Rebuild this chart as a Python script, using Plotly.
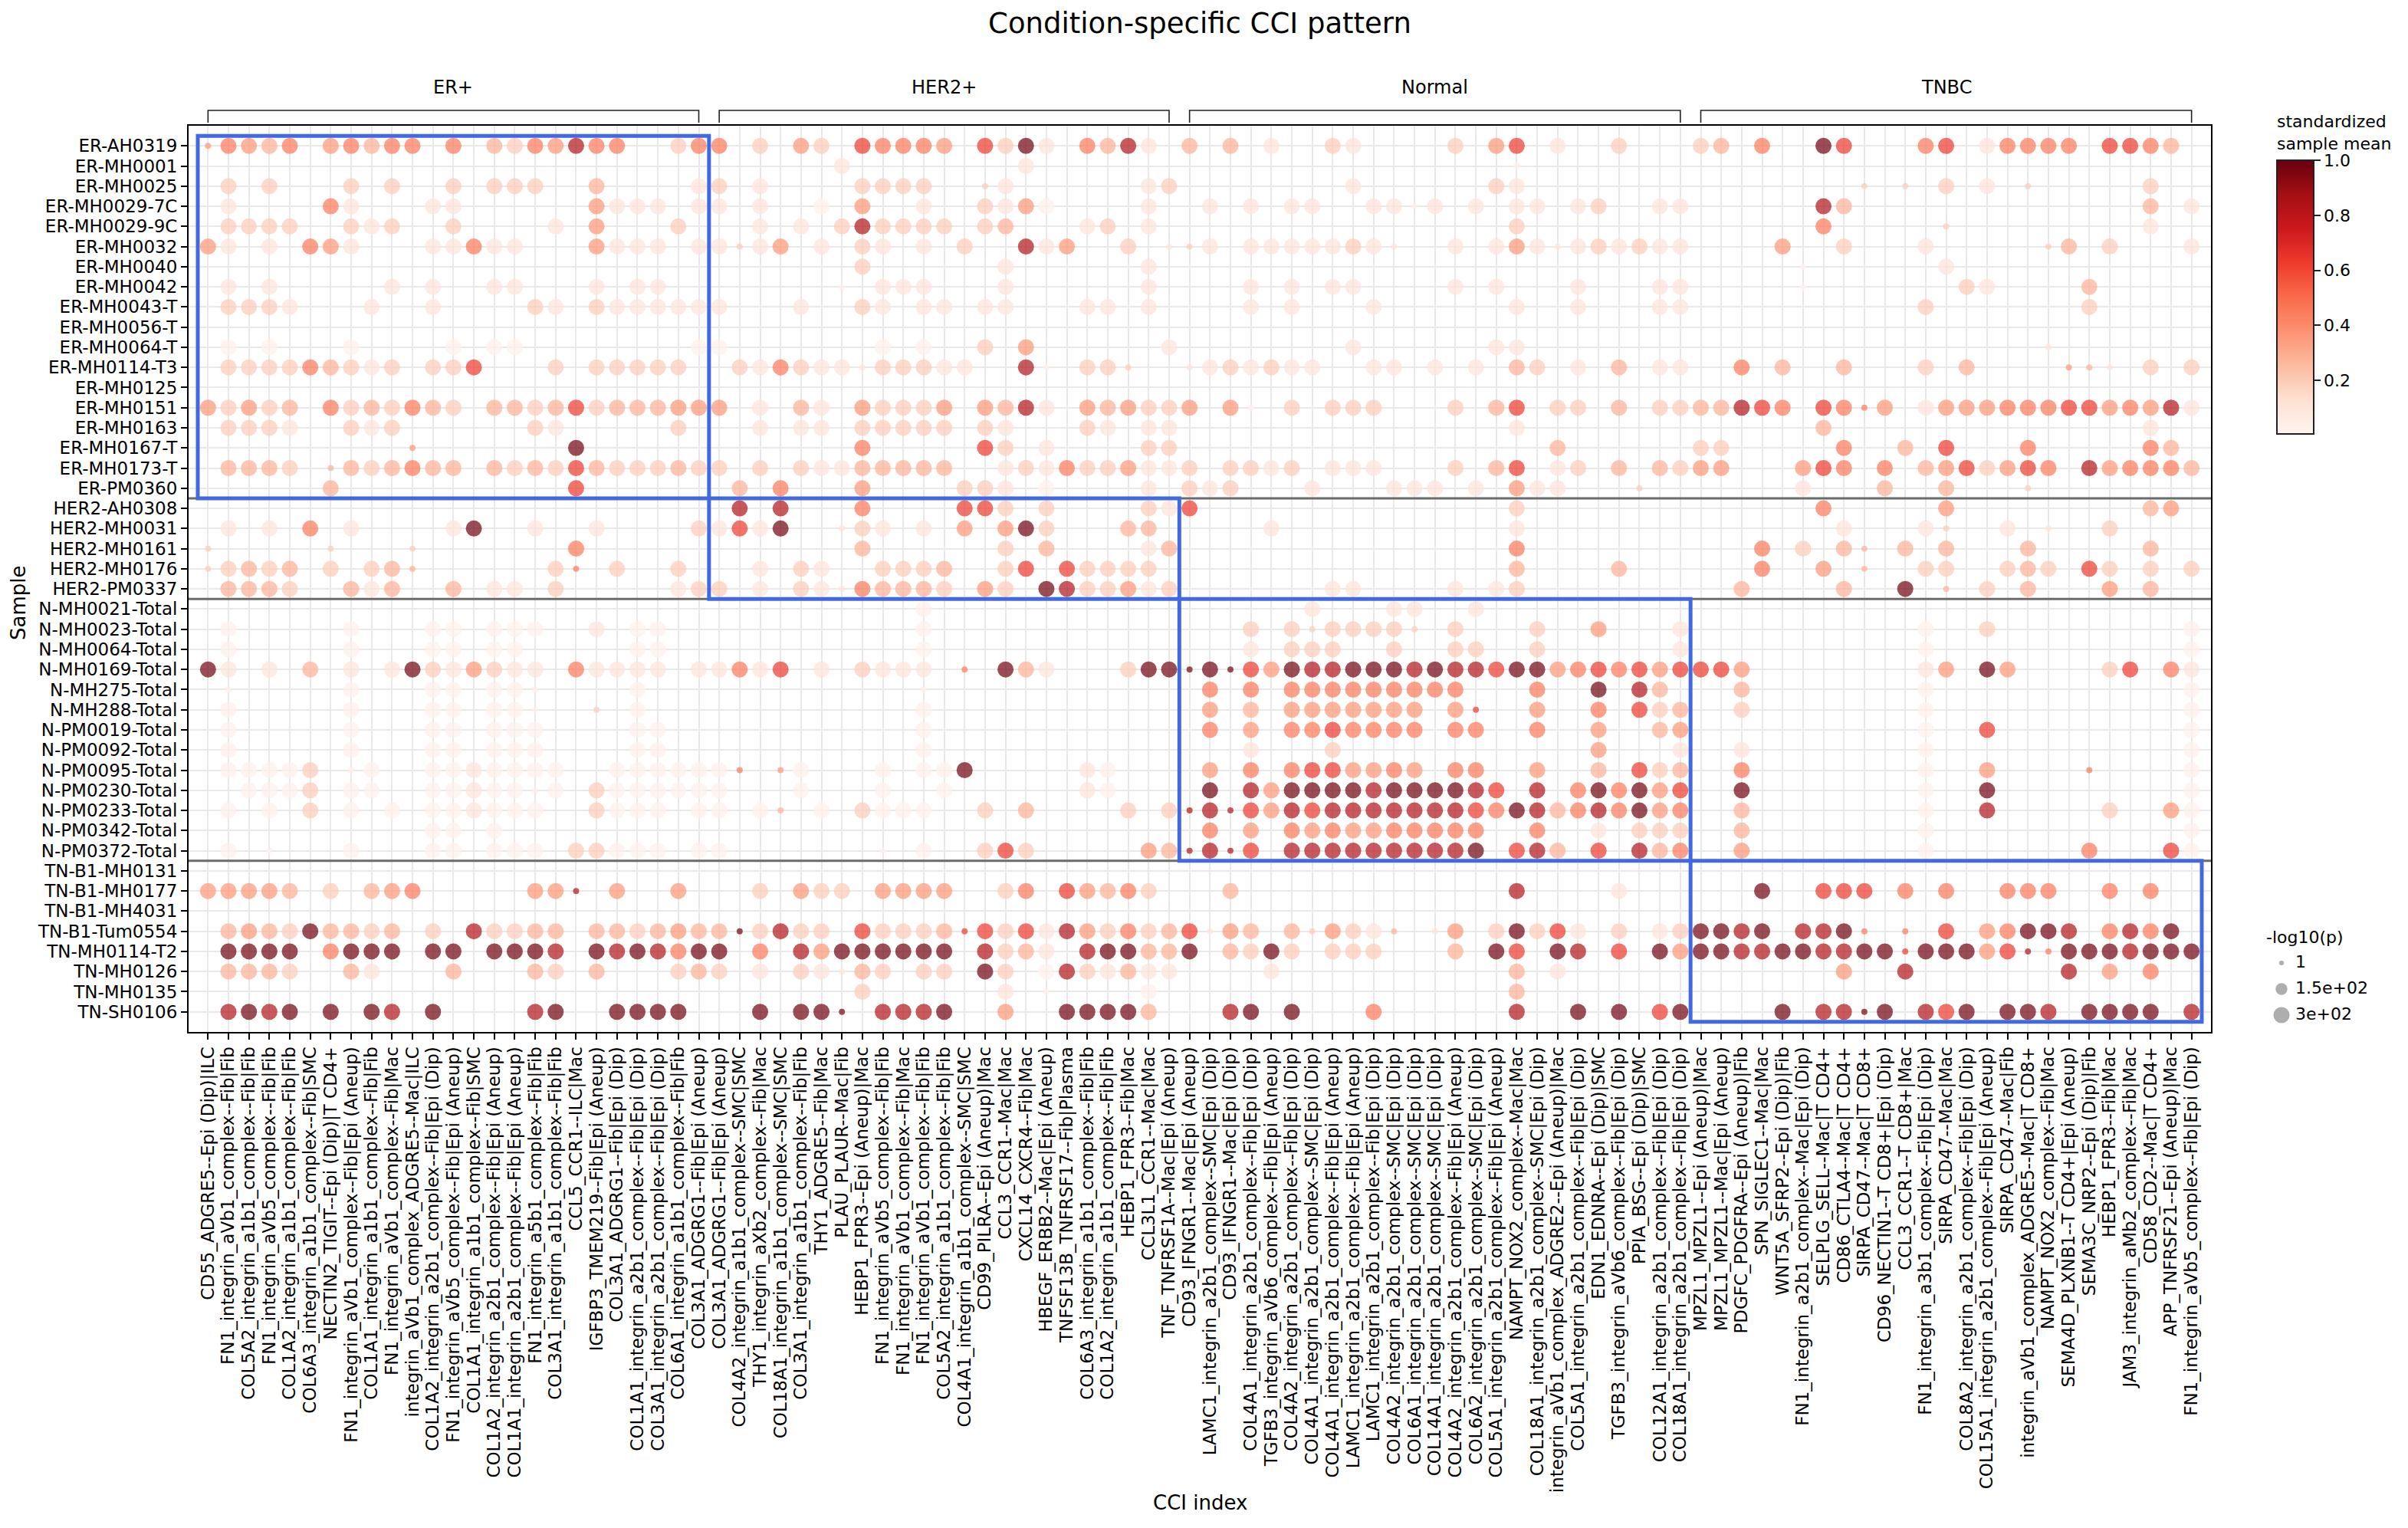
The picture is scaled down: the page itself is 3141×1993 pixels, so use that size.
import math
import plotly.graph_objects as go

# ---------------- data ----------------
samples = [
    "ER-AH0319", "ER-MH0001", "ER-MH0025", "ER-MH0029-7C", "ER-MH0029-9C", "ER-MH0032",
    "ER-MH0040", "ER-MH0042", "ER-MH0043-T", "ER-MH0056-T", "ER-MH0064-T", "ER-MH0114-T3",
    "ER-MH0125", "ER-MH0151", "ER-MH0163", "ER-MH0167-T", "ER-MH0173-T", "ER-PM0360",
    "HER2-AH0308", "HER2-MH0031", "HER2-MH0161", "HER2-MH0176", "HER2-PM0337",
    "N-MH0021-Total", "N-MH0023-Total", "N-MH0064-Total", "N-MH0169-Total", "N-MH275-Total",
    "N-MH288-Total", "N-PM0019-Total", "N-PM0092-Total", "N-PM0095-Total", "N-PM0230-Total",
    "N-PM0233-Total", "N-PM0342-Total", "N-PM0372-Total",
    "TN-B1-MH0131", "TN-B1-MH0177", "TN-B1-MH4031", "TN-B1-Tum0554", "TN-MH0114-T2",
    "TN-MH0126", "TN-MH0135", "TN-SH0106",
]

cci_labels = [
    # ER+
    "CD55_ADGRE5--Epi (Dip)|ILC", "FN1_integrin_aVb1_complex--Fib|Fib",
    "COL5A2_integrin_a1b1_complex--Fib|Fib", "FN1_integrin_aVb5_complex--Fib|Fib",
    "COL1A2_integrin_a1b1_complex--Fib|Fib", "COL6A3_integrin_a1b1_complex--Fib|SMC",
    "NECTIN2_TIGIT--Epi (Dip)|T CD4+", "FN1_integrin_aVb1_complex--Fib|Epi (Aneup)",
    "COL1A1_integrin_a1b1_complex--Fib|Fib", "FN1_integrin_aVb1_complex--Fib|Mac",
    "integrin_aVb1_complex_ADGRE5--Mac|ILC", "COL1A2_integrin_a2b1_complex--Fib|Epi (Dip)",
    "FN1_integrin_aVb5_complex--Fib|Epi (Aneup)", "COL1A1_integrin_a1b1_complex--Fib|SMC",
    "COL1A2_integrin_a2b1_complex--Fib|Epi (Aneup)", "COL1A1_integrin_a2b1_complex--Fib|Epi (Aneup)",
    "FN1_integrin_a5b1_complex--Fib|Fib", "COL3A1_integrin_a1b1_complex--Fib|Fib",
    "CCL5_CCR1--ILC|Mac", "IGFBP3_TMEM219--Fib|Epi (Aneup)",
    "COL3A1_ADGRG1--Fib|Epi (Dip)", "COL1A1_integrin_a2b1_complex--Fib|Epi (Dip)",
    "COL3A1_integrin_a2b1_complex--Fib|Epi (Dip)", "COL6A1_integrin_a1b1_complex--Fib|Fib",
    "COL3A1_ADGRG1--Fib|Epi (Aneup)",
    # HER2+
    "COL3A1_ADGRG1--Fib|Epi (Aneup)", "COL4A2_integrin_a1b1_complex--SMC|SMC",
    "THY1_integrin_aXb2_complex--Fib|Mac", "COL18A1_integrin_a1b1_complex--SMC|SMC",
    "COL3A1_integrin_a1b1_complex--Fib|Fib", "THY1_ADGRE5--Fib|Mac",
    "PLAU_PLAUR--Mac|Fib", "HEBP1_FPR3--Epi (Aneup)|Mac",
    "FN1_integrin_aVb5_complex--Fib|Fib", "FN1_integrin_aVb1_complex--Fib|Mac",
    "FN1_integrin_aVb1_complex--Fib|Fib", "COL5A2_integrin_a1b1_complex--Fib|Fib",
    "COL4A1_integrin_a1b1_complex--SMC|SMC", "CD99_PILRA--Epi (Aneup)|Mac",
    "CCL3_CCR1--Mac|Mac", "CXCL14_CXCR4--Fib|Mac",
    "HBEGF_ERBB2--Mac|Epi (Aneup)", "TNFSF13B_TNFRSF17--Fib|Plasma",
    "COL6A3_integrin_a1b1_complex--Fib|Fib", "COL1A2_integrin_a1b1_complex--Fib|Fib",
    "HEBP1_FPR3--Fib|Mac", "CCL3L1_CCR1--Mac|Mac", "TNF_TNFRSF1A--Mac|Epi (Aneup)",
    # Normal
    "CD93_IFNGR1--Mac|Epi (Aneup)", "LAMC1_integrin_a2b1_complex--SMC|Epi (Dip)",
    "CD93_IFNGR1--Mac|Epi (Dip)", "COL4A1_integrin_a2b1_complex--Fib|Epi (Dip)",
    "TGFB3_integrin_aVb6_complex--Fib|Epi (Aneup)", "COL4A2_integrin_a2b1_complex--Fib|Epi (Dip)",
    "COL4A1_integrin_a2b1_complex--SMC|Epi (Dip)", "COL4A1_integrin_a2b1_complex--Fib|Epi (Aneup)",
    "LAMC1_integrin_a2b1_complex--Fib|Epi (Aneup)", "LAMC1_integrin_a2b1_complex--Fib|Epi (Dip)",
    "COL4A2_integrin_a2b1_complex--SMC|Epi (Dip)", "COL6A1_integrin_a2b1_complex--SMC|Epi (Dip)",
    "COL14A1_integrin_a2b1_complex--SMC|Epi (Dip)", "COL4A2_integrin_a2b1_complex--Fib|Epi (Aneup)",
    "COL6A2_integrin_a2b1_complex--SMC|Epi (Dip)", "COL5A1_integrin_a2b1_complex--Fib|Epi (Aneup)",
    "NAMPT_NOX2_complex--Mac|Mac", "COL18A1_integrin_a2b1_complex--SMC|Epi (Dip)",
    "integrin_aVb1_complex_ADGRE2--Epi (Aneup)|Mac", "COL5A1_integrin_a2b1_complex--Fib|Epi (Dip)",
    "EDN1_EDNRA--Epi (Dip)|SMC", "TGFB3_integrin_aVb6_complex--Fib|Epi (Dip)",
    "PPIA_BSG--Epi (Dip)|SMC", "COL12A1_integrin_a2b1_complex--Fib|Epi (Dip)",
    "COL18A1_integrin_a2b1_complex--Fib|Epi (Dip)",
    # TNBC
    "MPZL1_MPZL1--Epi (Aneup)|Mac", "MPZL1_MPZL1--Mac|Epi (Aneup)",
    "PDGFC_PDGFRA--Epi (Aneup)|Fib", "SPN_SIGLEC1--Mac|Mac",
    "WNT5A_SFRP2--Epi (Dip)|Fib", "FN1_integrin_a2b1_complex--Mac|Epi (Dip)",
    "SELPLG_SELL--Mac|T CD4+", "CD86_CTLA4--Mac|T CD4+", "SIRPA_CD47--Mac|T CD8+",
    "CD96_NECTIN1--T CD8+|Epi (Dip)", "CCL3_CCR1--T CD8+|Mac",
    "FN1_integrin_a3b1_complex--Fib|Epi (Dip)", "SIRPA_CD47--Mac|Mac",
    "COL8A2_integrin_a2b1_complex--Fib|Epi (Dip)", "COL15A1_integrin_a2b1_complex--Fib|Epi (Aneup)",
    "SIRPA_CD47--Mac|Fib", "integrin_aVb1_complex_ADGRE5--Mac|T CD8+",
    "NAMPT_NOX2_complex--Fib|Mac", "SEMA4D_PLXNB1--T CD4+|Epi (Aneup)",
    "SEMA3C_NRP2--Epi (Dip)|Fib", "HEBP1_FPR3--Fib|Mac",
    "JAM3_integrin_aMb2_complex--Fib|Mac", "CD58_CD2--Mac|T CD4+",
    "APP_TNFRSF21--Epi (Aneup)|Mac", "FN1_integrin_aVb5_complex--Fib|Epi (Dip)",
]

groups = ["ER+", "HER2+", "Normal", "TNBC"]
group_ncols = [25, 23, 25, 25]   # CCIs per condition
group_nrows = [18, 5, 13, 8]     # samples per condition

# standardized sample mean per colour level
level_mean = {"1": 0.04, "2": 0.11, "3": 0.20, "4": 0.29, "5": 0.37,
              "6": 0.46, "7": 0.64, "8": 0.84, "9": 0.98}
# -log10(p): digits = large dots, letters a-i = small dots (same colour levels 1-9)
pval_large = 300
pval_small = 20
size_legend_vals = [1, 150, 300]
size_legend_text = ["1", "1.5e+02", "3e+02"]

EMPTY = ("..... ..... ..... ..... .....|..... ..... ..... ..... ...|"
         "..... ..... ..... ..... .....|..... ..... ..... ..... .....")

# one string per sample; blocks = ER+ | HER2+ | Normal | TNBC columns
dot_rows = [
    "e6546 .5646 6.6.4 36586 6..36|6.3.5 3.766 65.73 92.64 82.|4.4.2 ..32. ...3. 57.2. .3...|34.6. .97.. .67.2 6666. 7764.",
    "..... ..... ..... ..... .....|..... .2... ..... 2.... ...|..... ..... ..... .a... .....|..... ..... ..... ..... .....",
    ".3.3. ..3.3 ..3.3 33..4 ....2|3.2.. ..333 3..c2 ..... .23|..... ...2. ..... 32... .....|..... ...c. c.3.2 .c... ..3..",
    ".2... .62.. .22.. ....5 222.2|2.2.. 1.5.. 2..32 51... .2.|.2.2. 22..2 2a2.2 .22.2 3..22|..... .84.. ..... ..... ..4.2",
    ".3333 ..323 ..3.. ..2.5 ...3.|..2.2 .3833 33.34 ...23 .2.|..... ..... ..... .3... .....|..... .6... ..c.. ..... ..2..",
    "52.2. 652.. .2262 2...5 222.2|2c25. 2.32. 2.3.. 825.. 3.b|c2.22 22232 b..2. 252b2 32322|....5 ..3.. .2... ..c4. 3...2",
    "..... ..... ..... ..... .....|..... ..3.. ....2 ..... .2.|..... ..... ..... ..... .....|..... a.... ..2.. ..... .....",
    ".2.2. ....2 .2..2 2...2 .22..|..... .a.22 2...2 ..... .2.|...2. 2.22. ...2. 2...2 ...22|..... a.... ...32 ....4 .....",
    ".3332 ...2. .2... .32.3 22222|2...2 ..32. 22.22 ...22 .2.|...2. 2...2 ..... .2..2 ...22|..... ..... .3... ....3 .....",
    EMPTY,
    ".1.1. ..1.. ..1.1 1.... ....1|1.... ...1. 1..3. 5.... ..2|..... ...2. ..... 22... .....|..... ..... ..... ..b.. .....",
    ".3333 64323 .337. ..3.3 3333.|.3263 22b33 322.. 8a.33 c..|b2323 22..2 2.2.2 .43.2 .4.22|..6.4 ..4.. .3.4. ...ed b.3.3",
    EMPTY,
    "53534 .6343 643.4 43473 44455|5.2.4 2.533 35.54 82.54 533|5.5a. 3.333 ...3. 47.33 .4.33|44876 .76f5 .2555 66677 56582",
    ".3332 ..323 ..... .32.. ...3.|..2.2 2.333 33.32 ...32 .22|..... ..... ..... .2... .....|..... .4... ..... ..... ..2..",
    "..... ..... e.... ...9. .....|..... ..6.. ...73 .2... .33|..... ..... ..... ...4. .....|33... ..6.. 4.7.. .6... ..64.",
    ".4443 .d434 644.4 34374 33343|3.3.3 22444 44..2 32633 522|3.332 3.222 ...3. 47.23 .4.43|55... 576.6 .4573 576.8 56664",
    "..... .4... ..... ...7. .....|.4.6. ..5.. ..332 .1... .2.|323.. .2... 222.2 .522. ..c..|..... 2...4 ..4.. .c... .....",
    "..... ..... ..... ..... .....|.8.8. ..6.. ..773 .3... .32|7.... ..... ..... .3... .....|..... .6... ..5.. ..... ..45.",
    ".2.2. 6.2.. ..29. .2..2 ....3|2729. .b32. 2.5.5 93... 44.|....2 ..... ..... .2... .....|..... ..2.. .2c.. 2.b.. 3....",
    "c.... .c... c.... ...6. .....|..... ..4.. ....3 .4... .24|..... ..... ..... .6... .....|...6. 3.4d. 4.4.. .4... ..4..",
    "c3434 .3.34 d.... ..3f. 3..3.|..2.3 2..33 34..3 7.733 33.|..... ..... ..... .4... .4...|...6. .5.d. .33.. 343.7 3.3.3",
    ".4443 ..424 ..4.2 2.3.. ...23|3.2.3 2b644 43.53 .9833 523|..... ..22. ...2. 23... .....|..4.. ..4.. 9.d.3 .4... 5.4..",
    "..... ..... ..... ..... .....|..... ..... 1.... ..... ...|..... .2... 22..2 ..... .....|..... ..... ..... ..... .....",
    ".1... ..1.. .11.1 11..2 .11..|..... ..... 1.... ..... ...|...3. 3c333 3c.3. ..3.. 5...2|..... ..... .1..3 ..... ....1",
    ".1... ..1.. .11.1 1.... .11..|..... ..... 1.... ..... ...|...2. 333.. 3..33 ..3.. ....2|..... ..... .1... ..... ....1",
    "92.2. 4.2.2 93253 22.62 222.2|2627. 2.322 2.f.9 42... 399|i9i75 98899 98988 79956 76757|775.. ..... .25.9 5.... 37.62",
    ".a... ..1.. .11.1 1a... .1...|..... ..... a.... ..... ...|.6.6. 66666 6666. ..6.. 9.84.|..4.. ..... .1... ..... ....1",
    ".1... ..1.. .11.1 1a..c .1...|..... ..... 1.... ..... ...|.5.4. 55555 55.5g ..5.. 6.734|..3.. ..... .1... ..... ....1",
    ".1... ..1.. .11.1 11... .11..|..... ..... 1.... ..... ...|.6.5. 66766 66.66 ..6.. 5..45|..... ..... .1..7 ..... ....1",
    ".1... ..1.. .11.1 11... .11..|..... ..... 1.... ..... ...|...2. ..3.. ..... ..... 5...2|..2.. ..... .1... ..... ....1",
    ".1111 3.a1. .1121 111.. 11111|1f.e1 ...1. 119.. ...21 ...|.5.6. 67755 65.66 ..5.. 4.734|..6.. ..... .1..5 ....f ....1",
    "..111 3.11. .1121 1a1.3 11111|1...1 ...1. .1... ...21 ...|.9.85 99998 99998 7.8.6 96957|..9.. ..... .1..9 ..... ....1",
    ".1.1. 3.1.1 .1121 11..3 111.1|1.1d. 1.311 1..3. 4.... 3.3|h8h75 87888 88887 69846 86956|..4.. ..... .1..8 ..... 3..51",
    "..... ..... .11.1 ..... .....|..... ..... ..... ..... ...|.6.5. 65655 66666 ..6.. 2.333|..4.. ..... .1... ..... ....1",
    ".1.a. ..1.. .11.1 11.33 111.1|1.... ...a. 1..37 3.... .54|h8h7. 88888 88889 .784. 7.846|..5.. ..... .1... ....6 ...71",
    EMPTY,
    "55554 .3.45 6.... .55h. 5..5.|..3.5 33.55 55..3 6.754 63.|..4.. ..... ..... .8... .2...|...9. .777. 6.6.. 666.. 6.6..",
    EMPTY,
    ".4543 94434 .3.83 344.4 43454|4i383 3.733 34g73 72853 634|7b54. 4c532 d.b5. 39372 .3.23|9989. 889f. f.7.5 6998. 6869.",
    ".9999 .6999 .99.9 998.9 89869|9.6.8 59999 99.83 42.89 944|9.439 3.333 ...4. 97.98 .7.95|99889 98899 g9995 7hf99 98999",
    ".4443 ..42. ..4.. .43.4 ...34|3.2.3 2b43. 33.93 .1832 422|....2 ..... ..... .4.2. .....|..... ..5.. 8.... ...8. 5.6..",
    "..... ..... ..... ..... .....|..... ..3.. ....2 .a... .1.|..... ..... ..... .4... .....|..... ..... ..... ..... .....",
    ".8989 .9.98 .9... .89.. 9999.|..9.9 9i.88 89..5 ..999 94.|..89. 9...6 ..... .8..9 .9.79|....9 .88i9 .879. 998.9 999.8",
]

# ---------------- decode ----------------
assert len(samples) == len(dot_rows) == sum(group_nrows)
assert len(cci_labels) == sum(group_ncols)

xs, ys, means, pvals, texts = [], [], [], [], []
for r, row in enumerate(dot_rows):
    blocks = [b.replace(" ", "") for b in row.split("|")]
    for bi, b in enumerate(blocks):
        if len(b) != group_ncols[bi]:
            raise ValueError(f"row {r} ({samples[r]}) block {bi}: {len(b)} != {group_ncols[bi]}")
    cells = "".join(blocks)
    for c, ch in enumerate(cells):
        if ch == ".":
            continue
        if ch.isdigit():
            lvl, p = ch, pval_large
        else:
            lvl, p = str(ord(ch) - 96), pval_small
        xs.append(c)
        ys.append(r)
        means.append(level_mean[lvl])
        pvals.append(p)
        texts.append(f"{samples[r]}<br>{cci_labels[c]}")


def dot_diameter(p):
    # marker area grows linearly with -log10(p)
    return math.sqrt(36 + 1.35 * p)


# ---------------- layout geometry (pixels) ----------------
FONT = "DejaVu Sans"
W, H = 3141, 1993
ML, MR, MT, MB = 246, 0, 164, 647
PW = W - ML - MR
PH = H - MT - MB
PLOT_RIGHT = 2884


def px_x(px):
    return (px - ML) / PW


def px_y(py):
    return 1 - (py - MT) / PH


fig = go.Figure()
fig.add_trace(go.Scatter(
    x=xs, y=ys, mode="markers", text=texts, hoverinfo="text",
    showlegend=False,
    marker=dict(
        size=[dot_diameter(p) for p in pvals],
        sizemode="diameter",
        color=means, colorscale="Reds", cmin=0.006, cmax=1.0,
        line=dict(width=0),
        showscale=True,
        colorbar=dict(
            thickness=48, len=357, lenmode="pixels",
            x=px_x(2970), xanchor="left",
            y=px_y(209), yanchor="top",
            xpad=0, ypad=0,
            outlinewidth=2, outlinecolor="#222222",
            ticks="outside", ticklen=8, tickwidth=2, tickcolor="#222222",
            tickvals=[0.2, 0.4, 0.6, 0.8, 1.0],
            ticktext=["0.2", "0.4", "0.6", "0.8", "1.0"],
            tickfont=dict(family=FONT, size=22, color="black"),
        ),
    ),
))

# size legend drawn on its own small axes: column 0 = dots, column 1 = labels
n_leg = len(size_legend_vals)
fig.add_trace(go.Scatter(
    x=[0] * n_leg, y=list(range(n_leg)), xaxis="x2", yaxis="y2",
    mode="markers", showlegend=False, hoverinfo="skip",
    marker=dict(size=[dot_diameter(v) for v in size_legend_vals], sizemode="diameter",
                color="#8c8c8c", line=dict(width=0)),
))
fig.add_trace(go.Scatter(
    x=[1] * n_leg, y=list(range(n_leg)), xaxis="x2", yaxis="y2",
    mode="text", text=size_legend_text, textposition="middle right",
    textfont=dict(family=FONT, size=22, color="black"),
    showlegend=False, hoverinfo="skip", cliponaxis=False,
))

shapes = []
annotations = []

col_start = [sum(group_ncols[:i]) for i in range(len(groups))]
row_start = [sum(group_nrows[:i]) for i in range(len(groups))]

# horizontal separators between conditions
for i in range(1, len(groups)):
    yb = row_start[i] - 0.5
    shapes.append(dict(type="line", xref="x domain", yref="y", x0=0, x1=1, y0=yb, y1=yb,
                       line=dict(color="#6b6b6b", width=3), layer="above"))

# condition blocks (blue boxes)
for i in range(len(groups)):
    shapes.append(dict(type="rect", xref="x", yref="y",
                       x0=col_start[i] - 0.5, x1=col_start[i] + group_ncols[i] - 0.5,
                       y0=row_start[i] - 0.5, y1=row_start[i] + group_nrows[i] - 0.5,
                       line=dict(color="#4169e1", width=5), fillcolor="rgba(0,0,0,0)",
                       layer="above"))

# brackets above the plot
y_top = px_y(144)
y_end = px_y(160)
for i, g in enumerate(groups):
    a = col_start[i]
    b = col_start[i] + group_ncols[i] - 1
    shapes.append(dict(type="path", xref="x", yref="paper",
                       path=f"M {a},{y_end} L {a},{y_top} L {b},{y_top} L {b},{y_end}",
                       line=dict(color="#222222", width=1.6)))
    annotations.append(dict(x=(a + b) / 2, y=px_y(114), xref="x", yref="paper",
                            text=g, showarrow=False, xanchor="center", yanchor="middle",
                            font=dict(family=FONT, size=24, color="black")))

# axis titles
annotations.append(dict(x=px_x(24), y=px_y(786), xref="paper", yref="paper",
                        text="Sample", textangle=-90, showarrow=False,
                        xanchor="center", yanchor="middle",
                        font=dict(family=FONT, size=26, color="black")))
annotations.append(dict(x=px_x(1565), y=px_y(1960), xref="paper", yref="paper",
                        text="CCI index", showarrow=False, xanchor="center", yanchor="middle",
                        font=dict(family=FONT, size=26, color="black")))
# colorbar title
annotations.append(dict(x=px_x(2968), y=px_y(202), xref="paper", yref="paper",
                        text="standardized<br>sample mean", showarrow=False, align="left",
                        xanchor="left", yanchor="bottom",
                        font=dict(family=FONT, size=22, color="black")))
# size legend title
annotations.append(dict(x=px_x(2954), y=px_y(1222), xref="paper", yref="paper",
                        text="-log10(p)", showarrow=False, align="left",
                        xanchor="left", yanchor="middle",
                        font=dict(family=FONT, size=22, color="black")))

axis_common = dict(
    showline=True, linecolor="black", linewidth=2, mirror=True,
    ticks="outside", ticklen=8, tickwidth=2, tickcolor="black",
    showgrid=True, gridcolor="#e9e9e9", gridwidth=1.5, zeroline=False,
    tickfont=dict(family=FONT, size=23, color="black"),
)
hidden_axis = dict(showgrid=False, zeroline=False, showline=False, showticklabels=False,
                   ticks="", fixedrange=True)

# legend axes: 18 px per column, 34 px per row
LEG_X0, LEG_X1, LEG_DOT_X, LEG_COL_PX = 2962, W, 2976, 18
LEG_Y0, LEG_Y1, LEG_ROW_PX = 1239, 1341, 34
leg_xr0 = -(LEG_DOT_X - LEG_X0) / LEG_COL_PX
leg_xr1 = leg_xr0 + (LEG_X1 - LEG_X0) / LEG_COL_PX

fig.update_layout(
    width=W, height=H,
    margin=dict(l=ML, r=MR, t=MT, b=MB),
    paper_bgcolor="white", plot_bgcolor="white",
    font=dict(family=FONT, color="black"),
    title=dict(text="Condition-specific CCI pattern", x=1565 / W, xref="container", xanchor="center",
               y=1 - 30 / H, yref="container", yanchor="middle",
               font=dict(family=FONT, size=37, color="black")),
    xaxis=dict(domain=[0, px_x(PLOT_RIGHT)],
               range=[-0.95, len(cci_labels) - 1 + 0.95],
               tickmode="array", tickvals=list(range(len(cci_labels))), ticktext=cci_labels,
               tickangle=-90, **axis_common),
    yaxis=dict(range=[len(samples) - 1 + 1.0, -1.0],
               tickmode="array", tickvals=list(range(len(samples))), ticktext=samples,
               **axis_common),
    xaxis2=dict(domain=[px_x(LEG_X0), px_x(LEG_X1)], range=[leg_xr0, leg_xr1],
                anchor="y2", **hidden_axis),
    yaxis2=dict(domain=[px_y(LEG_Y1), px_y(LEG_Y0)], range=[n_leg - 0.5, -0.5],
                anchor="x2", **hidden_axis),
    shapes=shapes,
    annotations=annotations,
    showlegend=False,
)

fig.write_html("out.html",
               config={"displayModeBar": False},
               post_script="document.body.style.margin='0px';document.body.style.padding='0px';")
